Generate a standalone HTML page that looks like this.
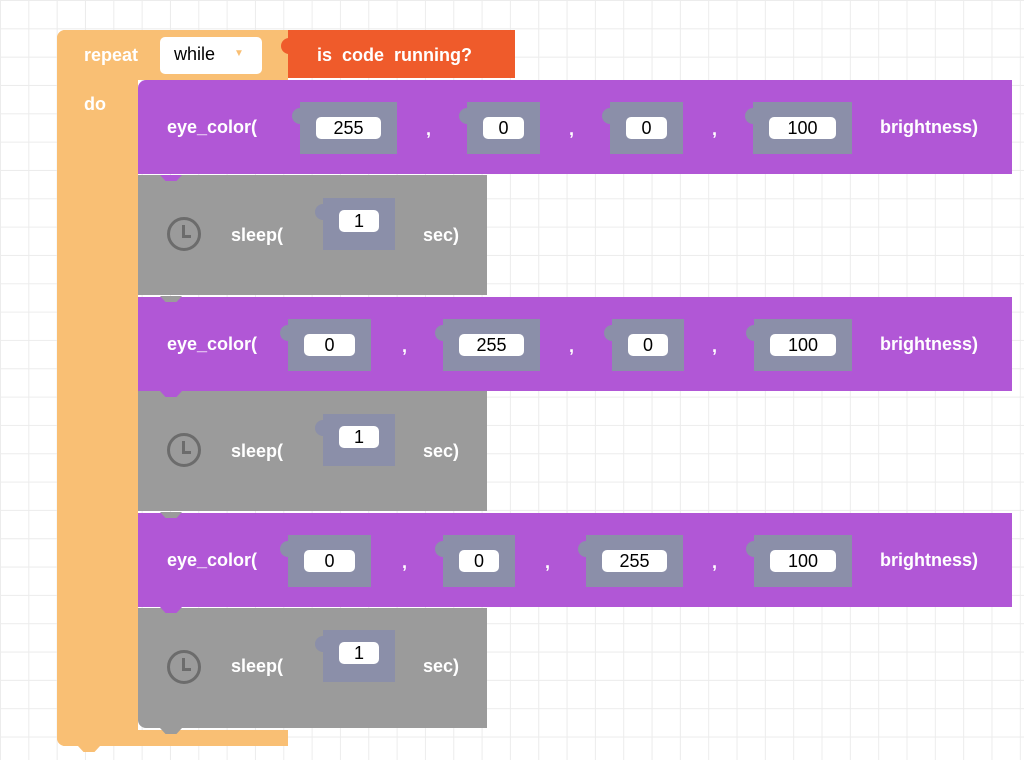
<!DOCTYPE html>
<html><head><style>
html,body{margin:0;padding:0}
body{width:1024px;height:760px;position:relative;overflow:hidden;background-color:#fff;
background-image:linear-gradient(#ececec 1px,transparent 1px),linear-gradient(90deg,#ececec 1px,transparent 1px);
background-size:28.33px 28.33px;background-position:0 0;font-family:"Liberation Sans",sans-serif}
.a{position:absolute}
.t{position:absolute;color:#fff;font-size:18px;font-weight:bold;line-height:20px;white-space:nowrap}
.slot{position:absolute;background:#8b8fa9;height:52px}
.slot:before{content:"";position:absolute;left:-8px;top:6px;width:10px;height:16px;background:#8b8fa9;border-radius:8px 0 0 8px}
.pill{position:absolute;left:16px;right:16px;top:15px;height:22px;background:#fff;border-radius:5px;color:#000;font-size:18px;text-align:center;line-height:22px}
.pur{position:absolute;left:138px;width:874px;height:94px;background:#b157d6}
.gry{position:absolute;left:138px;width:349px;height:120px;background:#9b9b9b}
.tab{position:absolute;width:22px;height:6px;clip-path:polygon(0 0,100% 0,75% 100%,25% 100%)}
.clk{position:absolute;left:167px;width:28px;height:28px;border:3px solid #6c6c6c;border-radius:50%}
.clk:after{content:"";position:absolute;left:12px;top:5px;width:6px;height:10px;border-left:3px solid #6c6c6c;border-bottom:3px solid #6c6c6c;transform:skewX(0deg)}
</style></head><body>
<!-- repeat block -->
<div class="a" style="left:57px;top:30px;width:231px;height:50px;background:#f9bf74;border-radius:8px 0 0 0"></div>
<div class="a" style="left:57px;top:30px;width:81px;height:716px;background:#f9bf74;border-radius:8px 0 0 8px"></div>
<div class="a" style="left:57px;top:730px;width:231px;height:16px;background:#f9bf74;border-radius:0 0 0 8px"></div>
<div class="tab" style="left:78px;top:746px;background:#f9bf74"></div>
<div class="t" style="left:84px;top:45px">repeat</div>
<div class="t" style="left:84px;top:94px">do</div>
<div class="a" style="left:160px;top:37px;width:102px;height:37px;background:#fff;border-radius:5px"></div>
<div class="a" style="left:174px;top:44px;font-size:18px;color:#000">while</div>
<div class="a" style="left:234px;top:48px;font-size:10px;color:#f9bf74">▼</div>
<div class="a" style="left:288px;top:30px;width:227px;height:48px;background:#ef5b2b"></div>
<div class="a" style="left:281px;top:38px;width:10px;height:16px;background:#ef5b2b;border-radius:8px 0 0 8px"></div>
<div class="t" style="left:317px;top:45px">is&nbsp; code&nbsp; running?</div>

<!-- row 1 -->
<div class="pur" style="top:80px;border-radius:8px 0 0 0"></div>
<div class="t" style="left:167px;top:117px">eye_color(</div>
<div class="slot" style="left:300px;top:102px;width:97px"><div class="pill">255</div></div>
<div class="t" style="left:426px;top:119px">,</div>
<div class="slot" style="left:467px;top:102px;width:73px"><div class="pill">0</div></div>
<div class="t" style="left:569px;top:119px">,</div>
<div class="slot" style="left:610px;top:102px;width:73px"><div class="pill">0</div></div>
<div class="t" style="left:712px;top:119px">,</div>
<div class="slot" style="left:753px;top:102px;width:99px"><div class="pill">100</div></div>
<div class="t" style="left:880px;top:117px">brightness)</div>

<div class="gry" style="top:175px"></div>
<div class="tab" style="left:160px;top:175px;background:#b157d6"></div>
<div class="clk" style="top:217px"></div>
<div class="t" style="left:231px;top:225px">sleep(</div>
<div class="slot" style="left:323px;top:198px;width:72px"><div class="pill" style="top:12px">1</div></div>
<div class="t" style="left:423px;top:225px">sec)</div>

<!-- row 2 -->
<div class="pur" style="top:297px"></div>
<div class="tab" style="left:160px;top:296px;background:#9b9b9b"></div>
<div class="t" style="left:167px;top:334px">eye_color(</div>
<div class="slot" style="left:288px;top:319px;width:83px"><div class="pill">0</div></div>
<div class="t" style="left:402px;top:336px">,</div>
<div class="slot" style="left:443px;top:319px;width:97px"><div class="pill">255</div></div>
<div class="t" style="left:569px;top:336px">,</div>
<div class="slot" style="left:612px;top:319px;width:72px"><div class="pill">0</div></div>
<div class="t" style="left:712px;top:336px">,</div>
<div class="slot" style="left:754px;top:319px;width:98px"><div class="pill">100</div></div>
<div class="t" style="left:880px;top:334px">brightness)</div>

<div class="gry" style="top:391px"></div>
<div class="tab" style="left:160px;top:391px;background:#b157d6"></div>
<div class="clk" style="top:433px"></div>
<div class="t" style="left:231px;top:441px">sleep(</div>
<div class="slot" style="left:323px;top:414px;width:72px"><div class="pill" style="top:12px">1</div></div>
<div class="t" style="left:423px;top:441px">sec)</div>

<!-- row 3 -->
<div class="pur" style="top:513px"></div>
<div class="tab" style="left:160px;top:512px;background:#9b9b9b"></div>
<div class="t" style="left:167px;top:550px">eye_color(</div>
<div class="slot" style="left:288px;top:535px;width:83px"><div class="pill">0</div></div>
<div class="t" style="left:402px;top:552px">,</div>
<div class="slot" style="left:443px;top:535px;width:72px"><div class="pill">0</div></div>
<div class="t" style="left:545px;top:552px">,</div>
<div class="slot" style="left:586px;top:535px;width:97px"><div class="pill">255</div></div>
<div class="t" style="left:712px;top:552px">,</div>
<div class="slot" style="left:754px;top:535px;width:98px"><div class="pill">100</div></div>
<div class="t" style="left:880px;top:550px">brightness)</div>

<div class="gry" style="top:608px;height:120px;border-radius:0 0 0 8px"></div>
<div class="tab" style="left:160px;top:607px;background:#b157d6"></div>
<div class="tab" style="left:160px;top:728px;background:#9b9b9b"></div>
<div class="clk" style="top:650px"></div>
<div class="t" style="left:231px;top:656px">sleep(</div>
<div class="slot" style="left:323px;top:630px;width:72px"><div class="pill" style="top:12px">1</div></div>
<div class="t" style="left:423px;top:656px">sec)</div>
</body></html>
